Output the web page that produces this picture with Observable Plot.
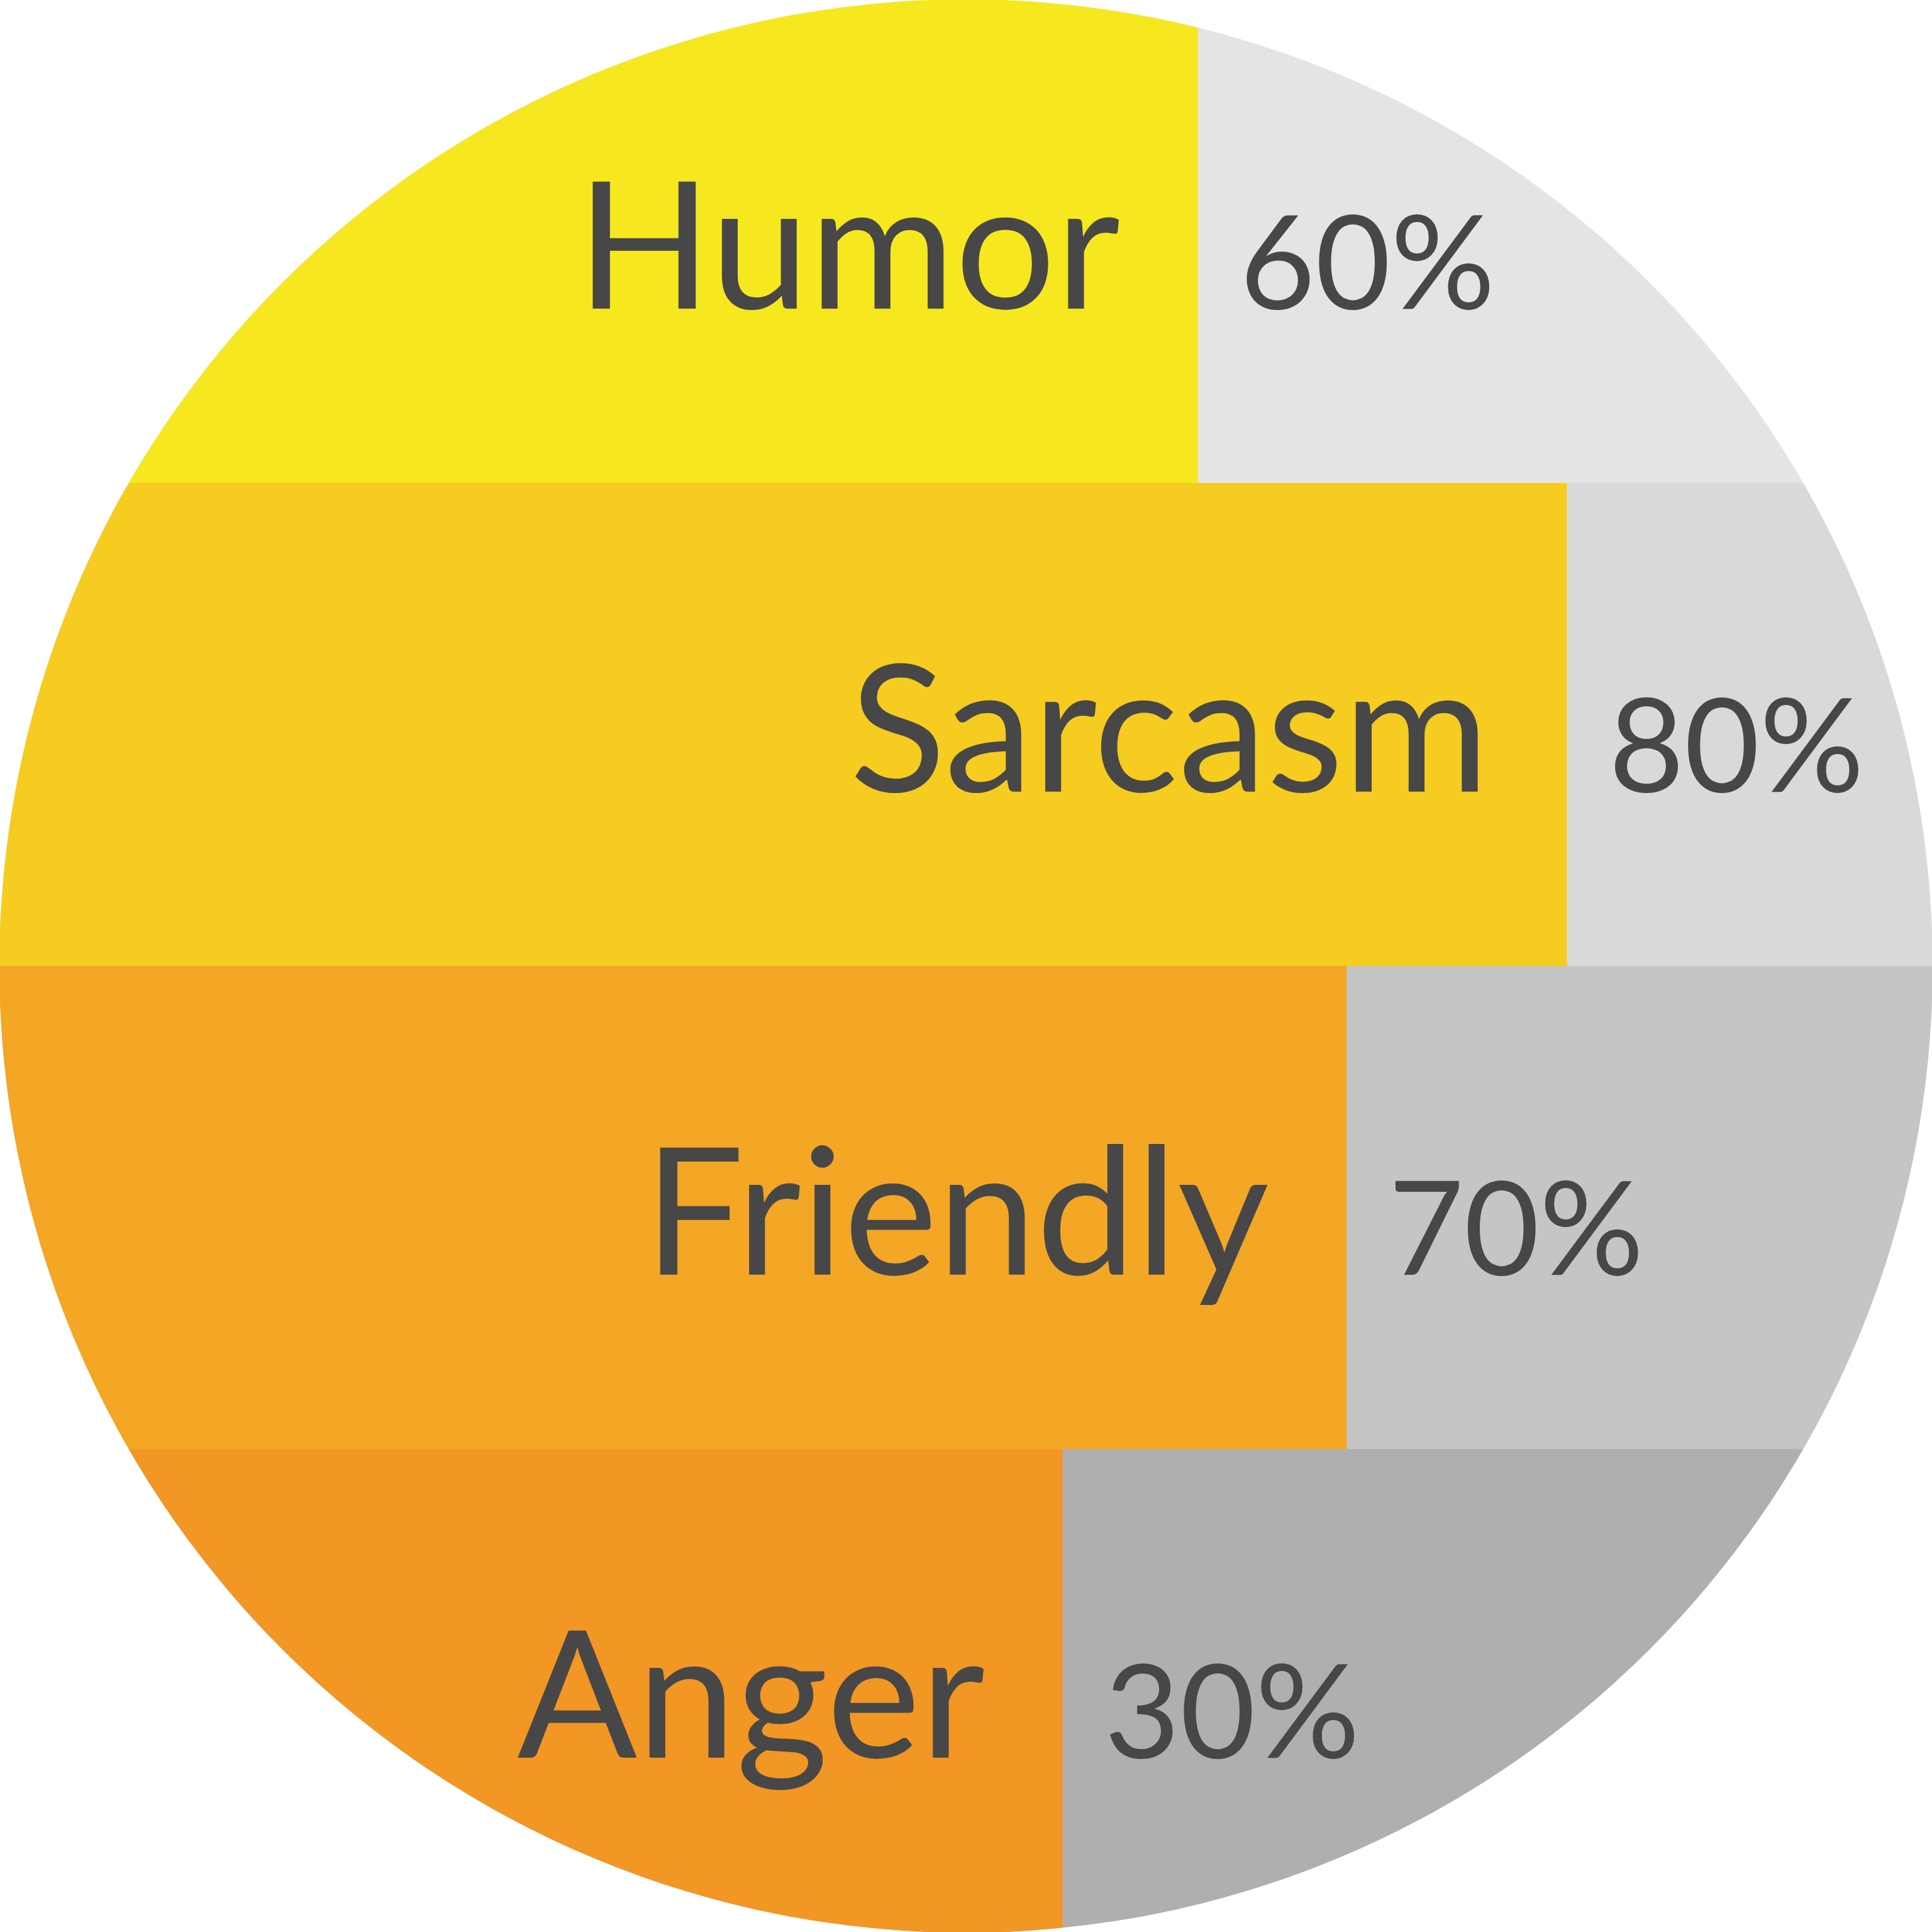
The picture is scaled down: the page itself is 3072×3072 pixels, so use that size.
<!DOCTYPE html>
<html>
<head>
<meta charset="utf-8">
<script src="https://cdn.jsdelivr.net/npm/d3@7"></script>
<script src="https://cdn.jsdelivr.net/npm/@observablehq/plot@0.6"></script>
<style>
  html, body { margin: 0; padding: 0; background: #ffffff; }
  #chart svg { display: block; }
</style>
</head>
<body>
<div id="chart"></div>
<script>
// Categories (top to bottom)
const categories = ["Humor", "Sarcasm", "Friendly", "Anger"];
// Displayed percentage labels
const percentLabels = [60, 80, 70, 30];
// Drawn bar lengths, as % of the full width
const barLengths = [62.0, 81.1, 69.7, 55.0];
// Bar colours and remainder greys
const barColors = ["#F7E71F", "#F5CC1F", "#F3A725", "#F29624"];
const restColors = ["#E4E4E4", "#D9D9D9", "#C5C5C5", "#AFAFAF"];

const rows = categories.map((c, i) => ({
  category: c,
  bar: barLengths[i],
  pct: percentLabels[i],
  color: barColors[i],
  rest: restColors[i]
}));

const W = 3072, H = 3072;
const textColor = "#474747";
const font = "Lato, 'Open Sans', sans-serif";

const chart = Plot.plot({
  width: W,
  height: H,
  margin: 0,
  x: {domain: [0, 100], axis: null},
  y: {domain: categories, padding: 0, axis: null},
  color: {type: "identity"},
  style: {background: "#ffffff", fontFamily: font},
  marks: [
    Plot.barX(rows, {y: "category", x1: 0, x2: 100, fill: "rest"}),
    Plot.barX(rows, {y: "category", x1: 0, x2: "bar", fill: "color"}),
    Plot.text(rows, {
      y: "category", x: "bar", text: "category",
      textAnchor: "end", dx: -124, dy: 16,
      fontSize: 282, fontWeight: 400, fill: textColor, fontFamily: font
    }),
    Plot.text(rows, {
      y: "category", x: "bar", text: d => d.pct + "%",
      textAnchor: "start", dx: 66, dy: 40,
      fontSize: 207, fontWeight: 400, fill: textColor, fontFamily: font
    })
  ]
});

chart.style.clipPath = "circle(1537px at 50% 50%)";
document.getElementById("chart").appendChild(chart);
</script>
</body>
</html>
